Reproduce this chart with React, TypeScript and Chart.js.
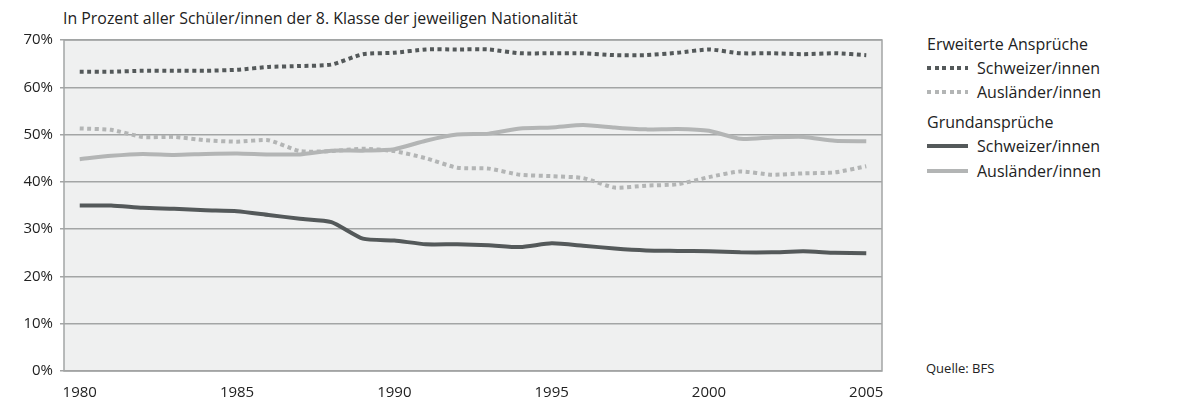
import { Chart, registerables } from "chart.js";
import { useEffect, useRef } from "react";

Chart.register(...registerables);

const years = [
  1980, 1981, 1982, 1983, 1984, 1985, 1986, 1987, 1988, 1989, 1990, 1991, 1992,
  1993, 1994, 1995, 1996, 1997, 1998, 1999, 2000, 2001, 2002, 2003, 2004, 2005,
];

// Erweiterte Ansprüche
const erwSchweizer = [
  63.3, 63.3, 63.5, 63.5, 63.5, 63.7, 64.3, 64.5, 64.8, 67.0, 67.3, 68.0, 68.0,
  68.0, 67.2, 67.2, 67.2, 66.8, 66.8, 67.3, 68.0, 67.2, 67.2, 67.0, 67.2, 66.8,
];
const erwAuslaender = [
  51.3, 51.0, 49.5, 49.5, 48.8, 48.5, 48.8, 46.5, 46.5, 47.0, 46.5, 45.0, 43.0,
  42.8, 41.5, 41.2, 40.8, 38.8, 39.2, 39.5, 41.0, 42.2, 41.5, 41.8, 42.0, 43.3,
];

// Grundansprüche
const grundSchweizer = [
  35.0, 35.0, 34.5, 34.3, 34.0, 33.8, 33.0, 32.2, 31.5, 28.0, 27.6, 26.8, 26.8,
  26.6, 26.2, 27.0, 26.5, 25.9, 25.5, 25.4, 25.3, 25.1, 25.1, 25.3, 25.0, 24.9,
];
const grundAuslaender = [
  44.8, 45.5, 45.9, 45.7, 45.9, 46.0, 45.8, 45.8, 46.6, 46.6, 46.9, 48.7, 50.0,
  50.2, 51.3, 51.5, 52.0, 51.5, 51.1, 51.2, 50.8, 49.1, 49.4, 49.5, 48.7, 48.6,
];

const xTicks = [1980, 1985, 1990, 1995, 2000, 2005];

const title = "In Prozent aller Schüler/innen der 8. Klasse der jeweiligen Nationalität";
const source = "Quelle: BFS";

const dark = "#54595a";
const light = "#b3b5b5";
const font = "'Open Sans', sans-serif";

const plotFrame = {
  id: "plotFrame",
  beforeDraw: (chart: any) => {
    const { ctx, chartArea: a } = chart;
    ctx.save();
    ctx.fillStyle = "#eff0f0";
    ctx.fillRect(a.left, a.top, a.right - a.left, a.bottom - a.top);
    ctx.restore();
  },
  beforeDatasetsDraw: (chart: any) => {
    const { ctx, chartArea: a } = chart;
    ctx.save();
    ctx.strokeStyle = "#a3a5a5";
    ctx.lineWidth = 1.5;
    ctx.strokeRect(a.left, a.top, a.right - a.left, a.bottom - a.top);
    ctx.restore();
  },
};

const toPoints = (vals: number[]) => years.map((y, i) => ({ x: y, y: vals[i] }));

const App = () => {
  const canvasRef = useRef<HTMLCanvasElement | null>(null);
  const chartRef = useRef<any>(null);

  useEffect(() => {
    if (!canvasRef.current) return;
    if (chartRef.current) chartRef.current.destroy();

    const line = (data: number[], color: string, dotted: boolean) => ({
      data: toPoints(data),
      borderColor: color,
      backgroundColor: color,
      borderWidth: 4,
      borderDash: dotted ? [4, 3.5] : [],
      borderCapStyle: "butt" as const,
      pointRadius: 0,
      tension: 0.2,
      fill: false,
    });

    chartRef.current = new Chart(canvasRef.current, {
      type: "line",
      data: {
        datasets: [
          line(grundSchweizer, dark, false),
          line(grundAuslaender, light, false),
          line(erwAuslaender, light, true),
          line(erwSchweizer, dark, true),
        ],
      },
      options: {
        animation: false,
        responsive: true,
        maintainAspectRatio: false,
        layout: { padding: { top: 40, right: 18, left: 0, bottom: 0 } },
        scales: {
          x: {
            type: "linear",
            min: 1979.5,
            max: 2005.5,
            afterBuildTicks: (axis: any) => {
              axis.ticks = xTicks.map((v) => ({ value: v }));
            },
            afterFit: (scale: any) => {
              scale.height = 45;
            },
            grid: { display: false, drawTicks: false },
            border: { display: false },
            ticks: {
              color: "#222",
              padding: 13,
              maxRotation: 0,
              font: { family: font, size: 15 },
              callback: (v: any) => String(v),
            },
          },
          y: {
            min: 0,
            max: 70,
            afterFit: (scale: any) => {
              scale.width = 64;
            },
            grid: { color: "#a3a5a5", lineWidth: 1.5, tickLength: 4 },
            border: { display: false },
            ticks: {
              stepSize: 10,
              color: "#222",
              padding: 7,
              font: { family: font, size: 15 },
              callback: (v: any) => v + "%",
            },
          },
        },
        plugins: {
          legend: { display: false },
          tooltip: { enabled: false },
        },
      },
      plugins: [plotFrame],
    });

    return () => chartRef.current?.destroy();
  }, []);

  const swatch = (color: string, dotted: boolean) => (
    <div
      style={{
        position: "absolute",
        left: 0,
        top: 9,
        width: 41,
        height: 4,
        background: dotted
          ? `repeating-linear-gradient(90deg, ${color} 0 4px, transparent 4px 7.5px)`
          : color,
      }}
    />
  );

  const legendRow = (top: number, label: string, color: string, dotted: boolean) => (
    <div style={{ position: "absolute", left: 927, top, height: 22, width: 260 }}>
      {swatch(color, dotted)}
      <span style={{ position: "absolute", left: 50, top: 0, lineHeight: "22px" }}>{label}</span>
    </div>
  );

  const header = (top: number, label: string) => (
    <div style={{ position: "absolute", left: 927, top, lineHeight: "22px" }}>{label}</div>
  );

  return (
    <div
      style={{
        position: "fixed",
        left: 0,
        top: 0,
        width: 1192,
        height: 416,
        background: "#fff",
        fontFamily: font,
        color: "#222",
        fontSize: 16,
      }}
    >
      <div style={{ position: "absolute", left: 63, top: 8, fontSize: 15.9, lineHeight: "20px" }}>
        {title}
      </div>
      <div style={{ position: "absolute", left: 0, top: 0, width: 900, height: 416 }}>
        <canvas ref={canvasRef}></canvas>
      </div>
      {header(33, "Erweiterte Ansprüche")}
      {legendRow(57, "Schweizer/innen", dark, true)}
      {legendRow(81, "Ausländer/innen", light, true)}
      {header(111, "Grundansprüche")}
      {legendRow(135, "Schweizer/innen", dark, false)}
      {legendRow(160, "Ausländer/innen", light, false)}
      <div style={{ position: "absolute", left: 926, top: 359, fontSize: 13, lineHeight: "18px" }}>
        {source}
      </div>
    </div>
  );
};

export default App;
